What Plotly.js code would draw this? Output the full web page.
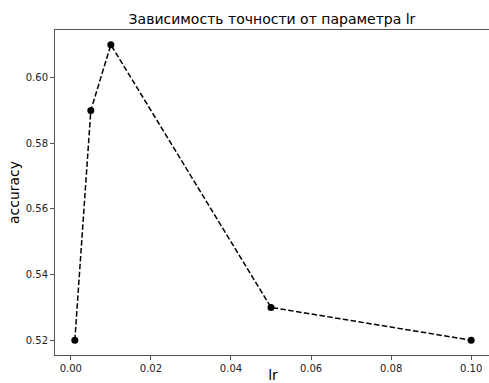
<!DOCTYPE html>
<html>
<head>
<meta charset="utf-8">
<script src="https://cdn.plot.ly/plotly-3.0.1.min.js"></script>
<style>html,body{margin:0;padding:0;overflow:hidden;background:#fff;}</style>
</head>
<body>
<div id="chart"></div>
<script>
const lrValues = [0.001, 0.005, 0.01, 0.05, 0.1];
const accuracy = [0.52, 0.59, 0.61, 0.53, 0.52];
const xTicks = [0.00, 0.02, 0.04, 0.06, 0.08, 0.10];
const xTickLabels = ["0.00", "0.02", "0.04", "0.06", "0.08", "0.10"];
const yTicks = [0.52, 0.54, 0.56, 0.58, 0.60];
const yTickLabels = ["0.52", "0.54", "0.56", "0.58", "0.60"];

const font = "DejaVu Sans, sans-serif";
const trace = {
  x: lrValues, y: accuracy, type: 'scatter', mode: 'lines+markers',
  line: {color: '#000', width: 1.5, dash: '5.5px,2.4px'},
  marker: {color: '#000', size: 7}
};
const axisCommon = {
  showgrid: false, zeroline: false, showline: true, mirror: true,
  linecolor: '#555', linewidth: 1, ticks: 'outside', ticklen: 4, tickwidth: 1,
  tickcolor: '#555', tickfont: {family: font, size: 10, color: '#222'}
};
const layout = {
  width: 491, height: 383,
  margin: {l: 55, r: 0, t: 30, b: 28},
  paper_bgcolor: '#fff', plot_bgcolor: '#fff',
  showlegend: false,
  title: {text: 'Зависимость точности от параметра lr', font: {family: font, size: 14, color: '#000'},
          x: 272/491, xanchor: 'center', y: 1 - 19/383, yanchor: 'middle', yref: 'container'},
  xaxis: Object.assign({}, axisCommon, {
    range: [-0.00395, 0.10495], tickvals: xTicks, ticktext: xTickLabels,
    title: {text: 'lr', font: {family: font, size: 14, color: '#000000'}, standoff: 10}
  }),
  yaxis: Object.assign({}, axisCommon, {
    range: [0.5155, 0.6145], tickvals: yTicks, ticktext: yTickLabels,
    title: {text: 'accuracy', font: {family: font, size: 14, color: '#000000'}, standoff: 2}
  })
};
Plotly.newPlot('chart', [trace], layout, {displayModeBar: false, staticPlot: true});
</script>
</body>
</html>
